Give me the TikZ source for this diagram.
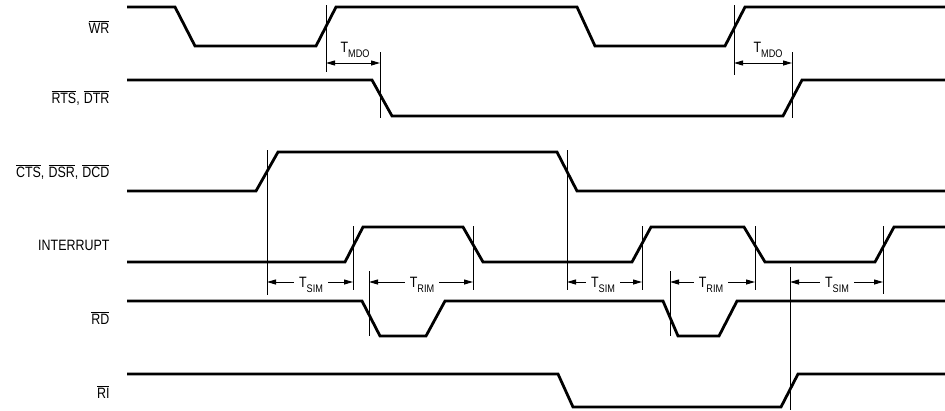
\documentclass[tikz,border=0pt]{standalone}
\usepackage{fontspec}
\setmainfont{Liberation Sans}
\usetikzlibrary{arrows.meta}
\newcommand{\Narrow}[1]{\scalebox{0.83}[1]{#1}}
\newcommand{\SigName}[1]{$\overline{\mbox{\Narrow{#1}}}$}
\newcommand{\TimeName}[1]{\Narrow{T}\raisebox{-5pt}{\fontsize{11}{11}\selectfont\Narrow{#1}}}

\begin{document}
\begin{tikzpicture}[x = 1pt, y = -1pt,
    font = \fontsize{15}{17}\selectfont,
    signal/.style = {line width = 2.8pt, line join = miter},
    marker/.style = {line width = 0.9pt},
    dim/.style = {line width = 1pt, {Triangle[length = 9pt, width = 5pt]}-{Triangle[length = 9pt, width = 5pt]}},
    signame/.style = {anchor = base east},
    tname/.style = {anchor = base, inner xsep = 5pt, inner ysep = 1pt}]
    \useasboundingbox (0, 0) rectangle (945, 410);

    % draw signal names
    \node[signame] (wr) at (113, 33) {\SigName{WR}};
    \node[signame] (rts) at (113, 103) {\SigName{RTS}\Narrow{,} \SigName{DTR}};
    \node[signame] (cts) at (113, 177) {\SigName{CTS}\Narrow{,} \SigName{DSR}\Narrow{,} \SigName{DCD}};
    \node[signame] (int) at (113, 250) {\Narrow{INTERRUPT}};
    \node[signame] (rd) at (113, 324) {\SigName{RD}};
    \node[signame] (ri) at (113, 398) {\SigName{RI}};


    % draw waveforms
    \draw[signal] (127, 7) -- (175, 7) -- (195, 46) -- (316, 46) -- (336, 7) -- (577, 7)
        -- (595, 46) -- (725, 46) -- (745, 7) -- (945, 7);
    \draw[signal] (127, 80) -- (372, 80) -- (392, 116) -- (783, 116) -- (802, 80) -- (945, 80);
    \draw[signal] (127, 191) -- (256, 191) -- (278, 152) -- (557, 152) -- (577, 191) -- (945, 191);
    \draw[signal] (127, 262) -- (345, 262) -- (363, 227) -- (463, 227) -- (483, 262) -- (632, 262)
        -- (651, 227) -- (744, 227) -- (765, 262) -- (875, 262) -- (894, 227) -- (945, 227);
    \draw[signal] (127, 301) -- (362, 301) -- (380, 336) -- (426, 336) -- (445, 301) -- (663, 301)
        -- (678, 336) -- (719, 336) -- (737, 301) -- (945, 301);
    \draw[signal] (127, 374) -- (558, 374) -- (573, 407) -- (781, 407) -- (798, 374) -- (945, 374);


    % draw reference lines
    \draw[marker] (326, 5) -- (326, 72);
    \draw[marker] (380, 52) -- (380, 118);
    \draw[marker] (734, 5) -- (734, 75);
    \draw[marker] (792, 52) -- (792, 118);

    \draw[marker] (267, 150) -- (267, 295);
    \draw[marker] (353, 226) -- (353, 290);
    \draw[marker] (369, 271) -- (369, 336);
    \draw[marker] (473, 226) -- (473, 290);
    \draw[marker] (567, 150) -- (567, 290);
    \draw[marker] (642, 226) -- (642, 290);
    \draw[marker] (670, 271) -- (670, 336);
    \draw[marker] (755, 226) -- (755, 290);
    \draw[marker] (790, 267) -- (790, 410);
    \draw[marker] (883, 226) -- (883, 294);


    % draw T_MDO
    \coordinate (mdo1a) at (326, 63);
    \coordinate (mdo1b) at (380, 63);
    \coordinate (mdo2a) at (734, 63);
    \coordinate (mdo2b) at (792, 63);
    \draw[dim] (mdo1a) -- (mdo1b);
    \draw[dim] (mdo2a) -- (mdo2b);
    \node[tname] (mdo1) at (355, 52) {\TimeName{MDO}};
    \node[tname] (mdo2) at (768, 52) {\TimeName{MDO}};


    % draw T_SIM and T_RIM
    \coordinate (sim1a) at (267, 282);
    \coordinate (sim1b) at (353, 282);
    \coordinate (rim1a) at (369, 282);
    \coordinate (rim1b) at (473, 282);
    \coordinate (sim2a) at (567, 282);
    \coordinate (sim2b) at (642, 282);
    \coordinate (rim2a) at (670, 282);
    \coordinate (rim2b) at (755, 282);
    \coordinate (sim3a) at (790, 282);
    \coordinate (sim3b) at (883, 282);

    \draw[dim] (sim1a) -- (sim1b);
    \draw[dim] (rim1a) -- (rim1b);
    \draw[dim] (sim2a) -- (sim2b);
    \draw[dim] (rim2a) -- (rim2b);
    \draw[dim] (sim3a) -- (sim3b);

    \node[tname, fill = white] (sim1) at (311, 287) {\TimeName{SIM}};
    \node[tname, fill = white] (rim1) at (422, 287) {\TimeName{RIM}};
    \node[tname, fill = white] (sim2) at (603, 287) {\TimeName{SIM}};
    \node[tname, fill = white] (rim2) at (711, 287) {\TimeName{RIM}};
    \node[tname, fill = white] (sim3) at (837, 287) {\TimeName{SIM}};

\end{tikzpicture}
\end{document}
